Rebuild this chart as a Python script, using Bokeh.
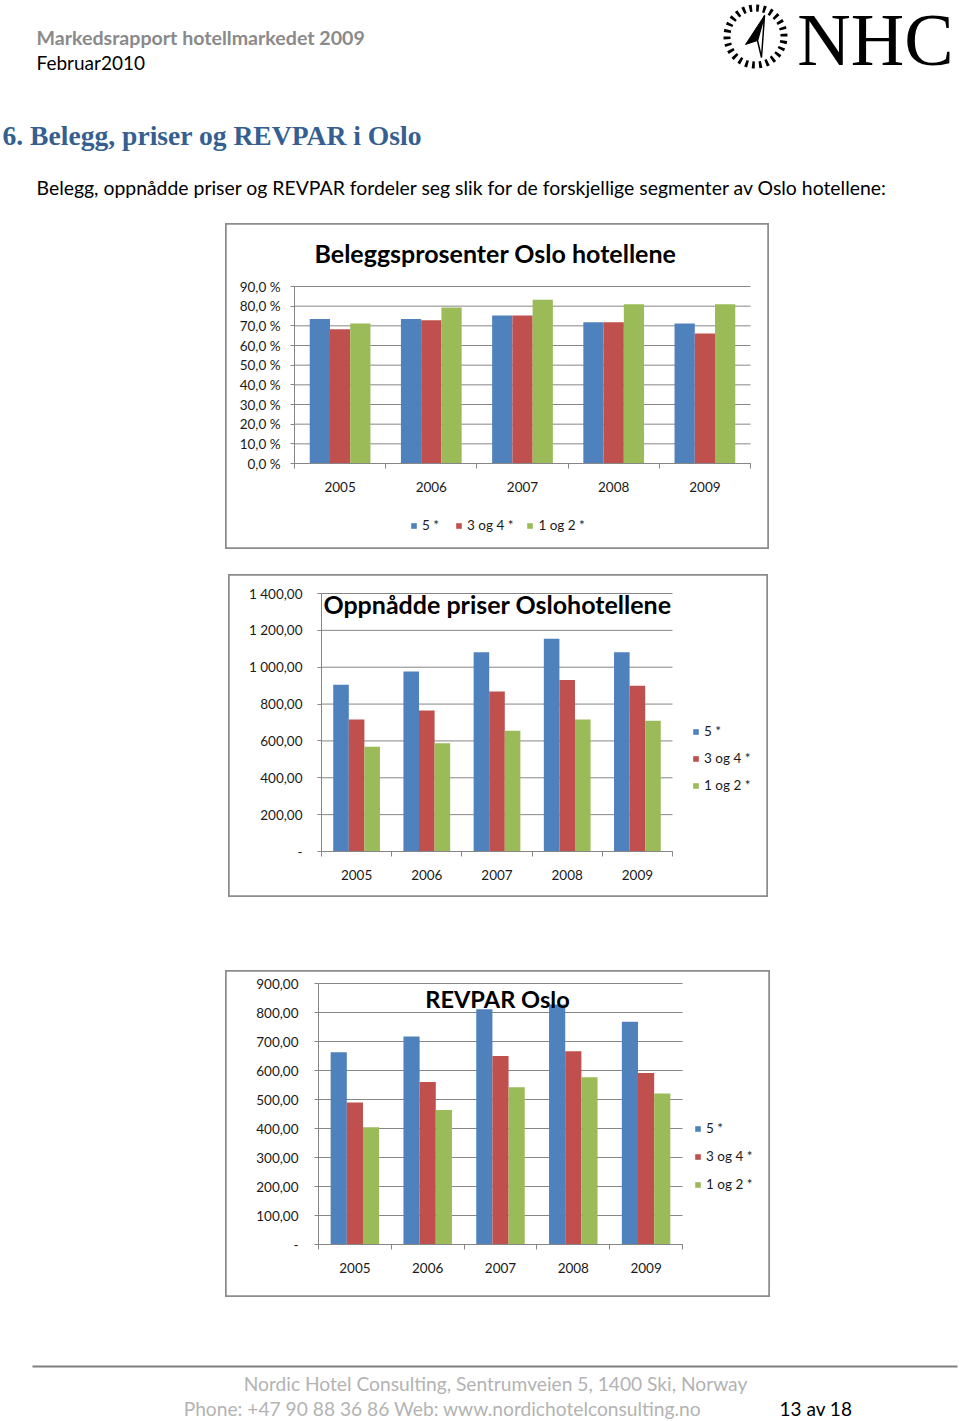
import math
from bokeh.plotting import figure
from bokeh.layouts import column, row
from bokeh.models import (Range1d, FixedTicker, CustomJSTickFormatter,
                          Legend, LegendItem, LinearAxis, Spacer)
from bokeh.core.properties import value
from bokeh.embed import file_html
from bokeh.resources import INLINE

# ---------------- data ----------------
years = ["2005", "2006", "2007", "2008", "2009"]
segments = ["5 *", "3 og 4 *", "1 og 2 *"]
seg_colors = ["#4F81BD", "#C0504D", "#9BBB59"]

occ_5 = [73.5, 73.5, 75.3, 71.8, 71.2]
occ_34 = [68.3, 72.9, 75.3, 71.8, 66.1]
occ_12 = [71.2, 79.3, 83.3, 81.0, 81.0]

price_5 = [905, 977, 1081, 1155, 1081]
price_34 = [716, 765, 868, 930, 899]
price_12 = [569, 587, 655, 716, 709]

revpar_5 = [663, 717, 811, 828, 768]
revpar_34 = [490, 560, 650, 666, 591]
revpar_12 = [404, 464, 542, 577, 521]

# ---------------- style ----------------
FONT = "Lato"
GRAY = "#868686"
PAGE_W = 960

PCT_CODE = "return tick.toFixed(1).replace('.', ',') + ' %';"
NUM_CODE = r"""
if (Math.abs(tick) < 1e-9) { return '-'; }
var parts = tick.toFixed(2).split('.');
return parts[0].replace(/\B(?=(\d{3})+(?!\d))/g, ' ') + ',' + parts[1];
"""
YEAR_CODE = "return years[Math.floor(tick)];"


def bar_chart(series_values, y_max, step, fmt_code, box, area, y_standoff,
              title, title_px, title_size, title_align,
              legend_px, legend_orient, legend_spacing):
    """box: page px (left, top, right, bottom) of the chart's framed box.
    area: page px (left, right, y of zero, y of y_max) of the plotting area."""
    bl, bt, br, bb = box
    ax0, ax1, ay0, ay1 = area
    n = len(years)
    ux = (ax1 - ax0) / n
    uy = (ay0 - ay1) / y_max

    def dx(px):
        return (px - ax0) / ux

    def dy(py):
        return (ay0 - py) / uy

    p = figure(width=br - bl, height=bb - bt,
               x_range=Range1d(dx(bl), dx(br)),
               y_range=Range1d(dy(bb), dy(bt)),
               output_backend="svg", toolbar_location=None,
               x_axis_location=None, y_axis_location=None,
               min_border=0, frame_align=False)
    p.grid.visible = False
    p.background_fill_color = "white"
    p.border_fill_color = "white"
    p.outline_line_color = "#8c8c8c"
    p.outline_line_width = 2.5

    ticks = list(range(0, y_max + 1, step))
    # horizontal gridlines across the plotting area
    p.segment(x0=[0] * len(ticks), x1=[n] * len(ticks), y0=ticks, y1=ticks,
              line_color=GRAY, line_width=1)

    yaxis = LinearAxis(fixed_location=0, bounds=(0, y_max),
                       ticker=FixedTicker(ticks=ticks),
                       formatter=CustomJSTickFormatter(code=fmt_code))
    yaxis.axis_line_color = GRAY
    yaxis.major_tick_line_color = GRAY
    yaxis.major_tick_out = 4
    yaxis.major_tick_in = 0
    yaxis.minor_tick_line_color = None
    yaxis.major_label_standoff = y_standoff
    yaxis.major_label_text_font = FONT
    yaxis.major_label_text_font_size = "13.5px"
    yaxis.major_label_text_color = "#1a1a1a"
    p.add_layout(yaxis, "left")

    xaxis = LinearAxis(fixed_location=0, bounds=(0, n),
                       ticker=FixedTicker(ticks=[i + 0.5 for i in range(n)],
                                          minor_ticks=list(range(n + 1))),
                       formatter=CustomJSTickFormatter(code=YEAR_CODE,
                                                       args=dict(years=years)))
    xaxis.axis_line_color = GRAY
    xaxis.major_tick_line_color = None
    xaxis.major_tick_out = 5
    xaxis.major_tick_in = 0
    xaxis.minor_tick_line_color = GRAY
    xaxis.minor_tick_out = 5
    xaxis.minor_tick_in = 0
    xaxis.major_label_standoff = 13
    xaxis.major_label_text_font = FONT
    xaxis.major_label_text_font_size = "13.5px"
    xaxis.major_label_text_color = "#1a1a1a"
    p.add_layout(xaxis, "below")

    w = 0.222
    offs = [-w, 0.0, w]
    items = []
    for k, vals in enumerate(series_values):
        xs = [i + 0.5 + offs[k] for i in range(n)]
        r = p.vbar(x=xs, top=vals, width=w, fill_color=seg_colors[k],
                   line_color=None)
        items.append(LegendItem(label=segments[k], renderers=[r]))

    p.text(x=[dx(title_px[0])], y=[dy(title_px[1])], text=[title],
           text_font=value(FONT), text_font_size=title_size,
           text_font_style="bold", text_color="#000000",
           text_align=title_align, text_baseline="middle")

    lx, ltop, lh = legend_px
    leg = Legend(items=items, location=(lx - bl, bb - (ltop + lh)),
                 orientation=legend_orient,
                 glyph_width=7, glyph_height=7, label_standoff=5,
                 label_text_font=FONT, label_text_font_size="13.5px",
                 label_text_color="#1a1a1a", label_height=20,
                 spacing=legend_spacing, padding=0, margin=0,
                 border_line_color=None, background_fill_alpha=0)
    p.add_layout(leg)
    return p


# ---------------- header ----------------
HDR_H = 223
hdr = figure(width=PAGE_W, height=HDR_H, x_range=Range1d(0, PAGE_W),
             y_range=Range1d(HDR_H, 0), output_backend="svg",
             toolbar_location=None, x_axis_location=None,
             y_axis_location=None, min_border=0, frame_align=False)
hdr.grid.visible = False
hdr.outline_line_color = None

hdr.text(x=[36], y=[37], text=["Markedsrapport hotellmarkedet 2009"],
         text_font=value(FONT), text_font_size="19.6px",
         text_font_style="bold", text_color="#8a8a8a",
         text_baseline="middle", text_align="left")
hdr.text(x=[36], y=[62], text=["Februar2010"], text_font=value(FONT),
         text_font_size="19px", text_color="#000000",
         text_baseline="middle", text_align="left")
hdr.text(x=[953], y=[39.5], text=["NHC"], text_font=value("Liberation Serif"),
         text_font_size="74px", text_color="#000000",
         text_baseline="middle", text_align="right")
# compass mark of the logo: ring of radial strokes and a needle
n_marks = 26
starts = [2 * math.pi * i / n_marks for i in range(n_marks)]
ends = [a + 2 * math.pi / n_marks * 0.4 for a in starts]
hdr.annular_wedge(x=[755] * n_marks, y=[36] * n_marks, inner_radius=25,
                  outer_radius=32, start_angle=starts, end_angle=ends,
                  fill_color="black", line_color=None)
hdr.patch(x=[764, 745, 757], y=[15, 44, 40], fill_color="black",
          line_color="black", line_width=1)
hdr.patch(x=[764, 757, 761], y=[15, 40, 57], fill_color="white",
          line_color="black", line_width=1.5)

hdr.text(x=[2], y=[135], text=["6. Belegg, priser og REVPAR i Oslo"],
         text_font=value("Liberation Serif"), text_font_size="27.6px",
         text_font_style="bold", text_color="#365F91",
         text_baseline="middle", text_align="left")
hdr.text(x=[36], y=[187],
         text=["Belegg, oppnådde priser og REVPAR fordeler seg slik for de forskjellige segmenter av Oslo hotellene:"],
         text_font=value(FONT), text_font_size="19.4px", text_color="#000000",
         text_baseline="middle", text_align="left")

# ---------------- charts ----------------
c1 = bar_chart([occ_5, occ_34, occ_12], 90, 10, PCT_CODE,
               (225, 223, 769, 549), (294, 750, 463, 286), 10,
               "Beleggsprosenter Oslo hotellene", (314, 252), "25px", "left",
               (410, 515, 20), "horizontal", 13)

c2 = bar_chart([price_5, price_34, price_12], 1400, 200, NUM_CODE,
               (228, 574, 768, 897), (321, 672, 851, 593), 15,
               "Oppnådde priser Oslohotellene", (497, 603), "25px", "center",
               (692, 721, 74), "vertical", 7)

c3 = bar_chart([revpar_5, revpar_34, revpar_12], 900, 100, NUM_CODE,
               (225, 970, 770, 1297), (318, 682, 1244, 983), 16,
               "REVPAR Oslo", (497, 998), "23.6px", "center",
               (694, 1118, 76), "vertical", 8)

# ---------------- footer ----------------
FTR_H = 123
ftr = figure(width=PAGE_W, height=FTR_H, x_range=Range1d(0, PAGE_W),
             y_range=Range1d(FTR_H, 0), output_backend="svg",
             toolbar_location=None, x_axis_location=None,
             y_axis_location=None, min_border=0, frame_align=False)
ftr.grid.visible = False
ftr.outline_line_color = None
ftr.segment(x0=[32], y0=[69], x1=[957], y1=[69], line_color="#7f7f7f",
            line_width=2)
ftr.text(x=[495], y=[86],
         text=["Nordic Hotel Consulting, Sentrumveien 5, 1400 Ski, Norway"],
         text_font=value(FONT), text_font_size="19.2px", text_color="#b3b3b3",
         text_align="center", text_baseline="middle")
ftr.text(x=[442], y=[111],
         text=["Phone: +47 90 88 36 86 Web: www.nordichotelconsulting.no"],
         text_font=value(FONT), text_font_size="19.2px", text_color="#b3b3b3",
         text_align="center", text_baseline="middle")
ftr.text(x=[779], y=[111], text=["13 av 18"], text_font=value(FONT),
         text_font_size="19px", text_color="#000000", text_align="left",
         text_baseline="middle")

root = column(hdr,
              row(Spacer(width=225), c1),
              Spacer(height=25),
              row(Spacer(width=228), c2),
              Spacer(height=73),
              row(Spacer(width=225), c3),
              ftr, spacing=0)
open("out.html", "w").write(file_html(root, INLINE, "Markedsrapport"))
